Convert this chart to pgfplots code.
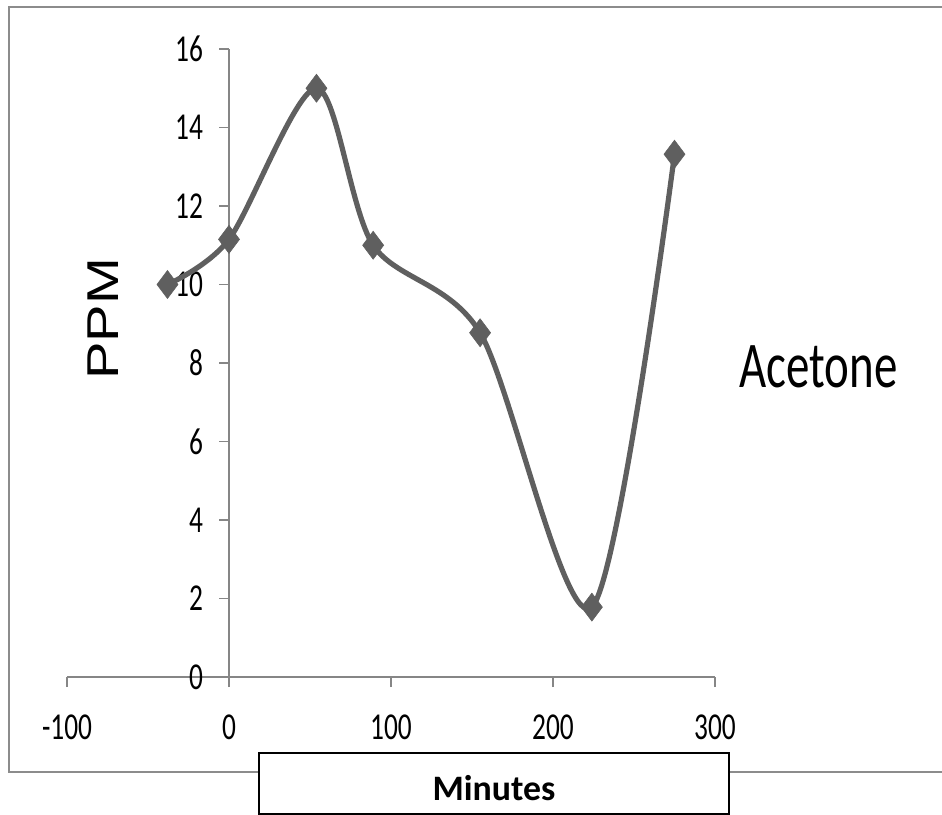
\documentclass[border=0pt]{standalone}
\usepackage{pgfplots}
\pgfplotsset{compat=1.18}
\usepackage{fontspec}
\setmainfont{Carlito}
\newfontfamily\chartfont[FakeStretch=0.72]{Carlito}
\newfontfamily\ppmfont[FakeStretch=1.26]{Liberation Sans}
\definecolor{linegray}{HTML}{5F5F5F}
\definecolor{axgray}{HTML}{868686}
\definecolor{framegray}{HTML}{8C8C8C}
\begin{document}
\begin{tikzpicture}
\path[use as bounding box] (0pt,0pt) rectangle (471pt,407pt);
\draw[framegray, line width=1.3pt] (471pt,403.5pt) -- (4.5pt,403.5pt) -- (4.5pt,21pt) -- (471pt,21pt);
\begin{axis}[
  at={(33.5pt,68.5pt)}, anchor=south west,
  scale only axis, width=324pt, height=314pt,
  xmin=-100, xmax=300, ymin=0, ymax=16,
  axis lines=middle,
  axis line style={-},
  hide obscured x ticks=false,
  hide obscured y ticks=false,
  x axis line style={draw=axgray, line width=1.1pt},
  y axis line style={draw=axgray, line width=0.6pt},
  xtick={-100,0,100,200,300},
  xticklabels={-100,0,100,200,300},
  ytick={0,2,4,6,8,10,12,14,16},
  yticklabels={0,2,4,6,8,10,12,14,16},
  tick align=outside,
  major tick length=5pt,
  tick style={draw=axgray, line width=0.6pt},
  xticklabel style={font=\chartfont\fontsize{19}{19}\selectfont, yshift=-10.5pt},
  yticklabel style={font=\chartfont\fontsize{19}{19}\selectfont, xshift=-4.5pt},
  clip=false,
]
\addplot[color=linegray, line width=2.6pt, smooth, tension=0.5,
  mark=diamond*, mark size=7pt, mark options={fill=linegray, draw=linegray, line width=0.3pt}]
  coordinates {(-38,10) (0,11.15) (54,15) (89,11) (155,8.77) (224,1.78) (275,13.32)};
\end{axis}
\node[font=\chartfont\fontsize{32.6}{33}\selectfont, anchor=base west, inner sep=0pt] at (369.5pt,213pt) {Acetone};
\node[font=\ppmfont\fontsize{22.3}{23}\selectfont, rotate=90, inner sep=0pt] at (51.5pt,247.5pt) {PPM};
\draw[black, line width=0.9pt, fill=white] (129.5pt,30.5pt) rectangle (364.5pt,0pt);
\node[font=\bfseries\fontsize{17.9}{18}\selectfont] at (247pt,13pt) {Minutes};
\end{tikzpicture}
\end{document}
